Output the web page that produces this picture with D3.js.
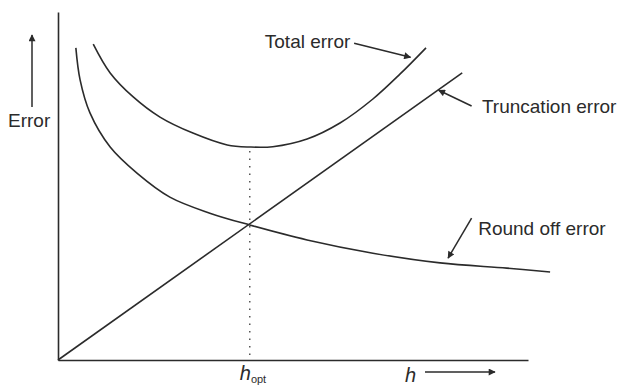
<!DOCTYPE html>
<html>
<head>
<meta charset="utf-8">
<script src="https://cdn.jsdelivr.net/npm/d3@7"></script>
<style>
  html, body { margin: 0; padding: 0; background: #fff; }
  svg { display: block; }
  .curve { fill: none; stroke: #2b2b2b; stroke-width: 1.6; }
  .axis path { stroke: #2b2b2b; stroke-width: 1.6; }
  .label { font-family: "Liberation Sans", Arial, sans-serif; font-size: 19px; fill: #2b2b2b; }
  .pointer { stroke: #2b2b2b; stroke-width: 1.5; fill: none; }
</style>
</head>
<body>
<svg id="chart" width="620" height="388"></svg>
<script>
"use strict";

// values (h and error in arbitrary units, 0..10)
const roundOffH = [0.38, 0.47, 0.68, 1.11, 1.68, 2.38, 3.23, 4.08, 5.3, 6.7, 8.13, 9.55, 10.47];
const roundOffE = [8.97, 8.05, 7.1, 6.12, 5.37, 4.68, 4.22, 3.88, 3.45, 3.07, 2.79, 2.64, 2.53];

const truncH = [0, 8.6];
const truncE = [0, 8.25];

const totalH = [0.75, 1.11, 1.6, 2.17, 2.87, 3.6, 4.08, 4.57, 5.3, 6.0, 6.7, 7.28, 7.83];
const totalE = [9.08, 8.25, 7.56, 6.98, 6.52, 6.18, 6.12, 6.13, 6.35, 6.81, 7.5, 8.22, 8.97];

const hOpt = 4.08;

const svg = d3.select("#chart");

const x = d3.scaleLinear().domain([0, 10]).range([58, 528]);
const y = d3.scaleLinear().domain([0, 10]).range([360, 12]);

const zip = (hs, es) => hs.map((h, i) => ({ h: h, e: es[i] }));

// arrow head marker
svg.append("defs")
  .append("marker")
  .attr("id", "head")
  .attr("viewBox", "0 0 10 10")
  .attr("refX", 9)
  .attr("refY", 5)
  .attr("markerWidth", 9)
  .attr("markerHeight", 7)
  .attr("markerUnits", "userSpaceOnUse")
  .attr("orient", "auto")
  .append("path")
  .attr("d", "M0,0 L10,5 L0,10 Z")
  .attr("fill", "#2b2b2b");

// axes without ticks
svg.append("g")
  .attr("class", "axis")
  .attr("transform", `translate(0,${y(0)})`)
  .call(d3.axisBottom(x).tickValues([]).tickSizeOuter(0));

svg.append("g")
  .attr("class", "axis")
  .attr("transform", `translate(${x(0)},0)`)
  .call(d3.axisLeft(y).tickValues([]).tickSizeOuter(0));

// dotted guide at h_opt
const totalAtOpt = totalE[totalH.indexOf(hOpt)];
svg.append("line")
  .attr("x1", x(hOpt))
  .attr("x2", x(hOpt))
  .attr("y1", y(totalAtOpt) + 4)
  .attr("y2", y(0))
  .attr("stroke", "#555")
  .attr("stroke-width", 1.5)
  .attr("stroke-dasharray", "1.5,6");

const line = d3.line()
  .x((d) => x(d.h))
  .y((d) => y(d.e));

svg.append("path")
  .attr("class", "curve")
  .attr("d", line.curve(d3.curveCatmullRom)(zip(roundOffH, roundOffE)));

svg.append("path")
  .attr("class", "curve")
  .attr("d", line.curve(d3.curveLinear)(zip(truncH, truncE)));

svg.append("path")
  .attr("class", "curve")
  .attr("d", line.curve(d3.curveCatmullRom)(zip(totalH, totalE)));

// annotations: text position and pointer [from, to] in data units
const notes = [
  { text: "Total error", tx: 4.4, te: 8.97, from: [6.3, 9.1], to: [7.5, 8.7] },
  { text: "Truncation error", tx: 9.02, te: 7.1, from: [8.8, 7.3], to: [8.1, 7.75] },
  { text: "Round off error", tx: 8.94, te: 3.6, from: [8.8, 4.08], to: [8.3, 2.93] },
];

notes.forEach((n) => {
  svg.append("text")
    .attr("class", "label")
    .attr("x", x(n.tx))
    .attr("y", y(n.te))
    .text(n.text);
  svg.append("line")
    .attr("class", "pointer")
    .attr("x1", x(n.from[0]))
    .attr("y1", y(n.from[1]))
    .attr("x2", x(n.to[0]))
    .attr("y2", y(n.to[1]))
    .attr("marker-end", "url(#head)");
});

// y axis caption with upward arrow
svg.append("text")
  .attr("class", "label")
  .attr("x", 8)
  .attr("y", 127)
  .text("Error");

svg.append("line")
  .attr("class", "pointer")
  .attr("x1", 32)
  .attr("y1", 107)
  .attr("x2", 32)
  .attr("y2", 35)
  .attr("marker-end", "url(#head)");

// x axis captions
const hoptLabel = svg.append("text")
  .attr("class", "label")
  .attr("x", x(hOpt) - 10)
  .attr("y", 380)
  .style("font-size", "20px")
  .style("font-style", "italic");
hoptLabel.append("tspan").text("h");
hoptLabel.append("tspan")
  .attr("dy", 3)
  .style("font-size", "11px")
  .style("font-style", "normal")
  .text("opt");

svg.append("text")
  .attr("class", "label")
  .attr("x", 405)
  .attr("y", 382)
  .style("font-size", "20px")
  .style("font-style", "italic")
  .text("h");

svg.append("line")
  .attr("class", "pointer")
  .attr("x1", 425)
  .attr("y1", 372)
  .attr("x2", 495)
  .attr("y2", 372)
  .attr("marker-end", "url(#head)");
</script>
</body>
</html>
